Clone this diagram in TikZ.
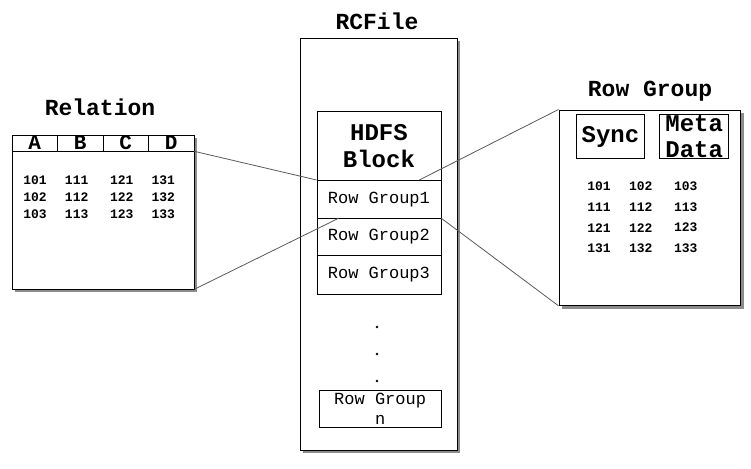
\documentclass[tikz,border=0pt]{standalone}
\usepackage{fontspec}
\setmonofont{Liberation Mono}
\usetikzlibrary{positioning, backgrounds}

\begin{document}
\begin{tikzpicture}[
    x=1pt, y=-1pt,
    box/.style={draw, fill=white, inner sep=0pt, anchor=north west, line width=0.8pt},
    shade/.style={fill=black!45},
    title/.style={font=\ttfamily\bfseries\fontsize{23}{23}\selectfont},
    big/.style={font=\ttfamily\bfseries\fontsize{24}{26.5}\selectfont, align=center},
    rowtxt/.style={font=\ttfamily\fontsize{17}{19.5}\selectfont, align=center},
    num/.style={font=\ttfamily\bfseries\fontsize{13}{13}\selectfont, inner sep=0pt},
    link/.style={draw=black!65, line width=0.8pt}
]
\useasboundingbox (0,0) rectangle (751,468);

% titles
\node[title] (reltitle) at (100,107) {Relation};
\node[title] (rctitle) at (377,21) {RCFile};
\node[title] (grptitle) at (650,91) {Row Group};

% relation table
\node[box, minimum width=182pt, minimum height=154pt] (rel) at (11.5,134.5) {};
\foreach \c [count=\i from 0] in {A,B,C,D}
    \node[box, minimum width=45.5pt, minimum height=16pt,
          font=\ttfamily\bfseries\fontsize{21}{21}\selectfont] (h\c) at ({11.5+45.5*\i},134.5) {\c};
\foreach \x/\b [count=\i] in {35/10, 76.7/11, 121.7/12, 163.3/13}
    \foreach \y [count=\r] in {180, 197.3, 214.3}
        \node[num] (rn\i\r) at (\x,\y) {\b\r};

% rcfile
\node[box, minimum width=157pt, minimum height=411pt] (rc) at (299.5,38.5) {};
\node[box, minimum width=124pt, minimum height=69pt, big] (hdfs) at (316.5,111) {HDFS\\Block};
\node[box, minimum width=124pt, minimum height=37.5pt, rowtxt] (rg1) at (316.5,180) {Row Group1};
\node[box, minimum width=124pt, minimum height=37.5pt, rowtxt] (rg2) at (316.5,217.5) {Row Group2};
\node[box, minimum width=124pt, minimum height=39pt, rowtxt] (rg3) at (316.5,255) {Row Group3};
\foreach \y [count=\i] in {327, 354, 381}
    \node[circle, fill, inner sep=0pt, minimum size=2.6pt] (dot\i) at (377,\y) {};
\node[box, minimum width=122.5pt, minimum height=37pt, rowtxt] (rgn) at (318.5,390) {Row Group\\n};

% row group detail
\node[box, minimum width=181.5pt, minimum height=195.5pt] (grp) at (558.5,109.5) {};
\node[box, minimum width=68.6pt, minimum height=44pt, big] (sync) at (575.7,114.3) {Sync};
\node[box, minimum width=69pt, minimum height=44pt, big] (meta) at (659.3,114.3) {Meta\\Data};
\foreach \x [count=\c] in {599, 640.7, 685.7}
    \foreach \y/\b [count=\r] in {186.7/10, 207.3/11, 227.7/12, 248.3/13}
        \node[num] (gn\c\r) at (\x,\y) {\b\c};

% shadows
\begin{pgfonlayer}{background}
    \foreach \n in {rel, rc, grp}
        \fill[shade] ([shift={(3,3)}]\n.north west) rectangle ([shift={(3,3)}]\n.south east);
\end{pgfonlayer}

% connectors
\draw[link] (hD.south east) -- (rg1.north west);
\draw[link] (rel.south east) -- ([xshift=22pt]rg1.south west);
\draw[link] (grp.north west) -- ([xshift=-22pt]rg1.north east);
\draw[link] (rg1.south east) -- (grp.south west);
\end{tikzpicture}
\end{document}
